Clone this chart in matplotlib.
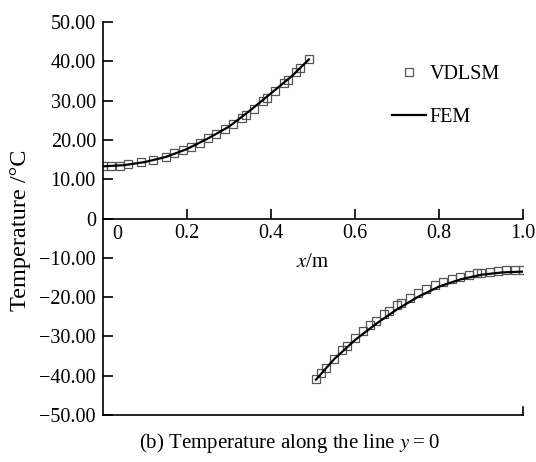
import matplotlib.pyplot as plt

plt.rcParams['font.family'] = ['Liberation Serif', 'DejaVu Serif']
plt.rcParams['mathtext.fontset'] = 'stix'

# FEM line, both halves
fem_x1 = [0.0, 0.05, 0.1, 0.15, 0.2, 0.25, 0.3, 0.35, 0.4, 0.45, 0.49]
fem_t1 = [13.3, 13.6, 14.4, 15.7, 17.7, 20.4, 23.4, 27.5, 31.9, 36.3, 40.5]
fem_x2 = [0.507, 0.55, 0.6, 0.65, 0.7, 0.75, 0.8, 0.85, 0.9, 0.95, 1.0]
fem_t2 = [-41.0, -35.8, -30.9, -26.8, -23.1, -19.9, -17.3, -15.5, -14.3, -13.7, -13.5]

# VDLSM points
vd_x1 = [0.0, 0.02, 0.04, 0.06, 0.09, 0.12, 0.15, 0.17, 0.19, 0.21, 0.23, 0.25, 0.27,
         0.29, 0.31, 0.33, 0.34, 0.36, 0.38, 0.39, 0.41, 0.43, 0.44, 0.46, 0.47, 0.49]
vd_t1 = [13.4, 13.4, 13.5, 13.8, 14.3, 14.9, 15.8, 16.6, 17.4, 18.3, 19.3, 20.5, 21.6,
         22.9, 24.2, 25.7, 26.4, 28.0, 29.9, 30.7, 32.5, 34.4, 35.3, 37.3, 38.3, 40.6]
vd_x2 = [0.507, 0.52, 0.53, 0.55, 0.57, 0.58, 0.6, 0.62, 0.635, 0.65, 0.67, 0.68, 0.7,
         0.71, 0.73, 0.75, 0.77, 0.79, 0.81, 0.83, 0.85, 0.87, 0.89, 0.9, 0.92, 0.94,
         0.96, 0.98, 1.0]
vd_t2 = [-40.8, -39.2, -38.0, -35.8, -33.5, -32.4, -30.5, -28.6, -27.2, -26.0, -24.3,
         -23.4, -22.1, -21.4, -20.1, -19.0, -17.8, -16.9, -16.1, -15.4, -14.8, -14.3,
         -13.9, -13.8, -13.5, -13.3, -13.2, -13.1, -13.1]

xticks = [0.2, 0.4, 0.6, 0.8, 1.0]
yticks = [-50, -40, -30, -20, -10, 0, 10, 20, 30, 40, 50]
ylabels = ['\u221250.00', '\u221240.00', '\u221230.00', '\u221220.00', '\u221210.00', '0',
           '10.00', '20.00', '30.00', '40.00', '50.00']

fig = plt.figure(figsize=(5.36, 4.62), dpi=100)
ax = fig.add_axes([0.192, 0.1017, 0.784, 0.8503])

ms = dict(marker='s', ls='none', ms=6, mfc='none', mec='#555555', mew=0.9)
ax.plot(vd_x1, vd_t1, label='VDLSM', **ms)
ax.plot(vd_x2, vd_t2, **ms)
ax.plot(fem_x1, fem_t1, color='black', lw=1.6, label='FEM')
ax.plot(fem_x2, fem_t2, color='black', lw=1.6)

ax.set_xlim(0, 1.0)
ax.set_ylim(-50, 50)
ax.spines['top'].set_visible(False)
ax.spines['right'].set_visible(False)
ax.spines['bottom'].set_position(('data', 0))
ax.axhline(-50, color='black', lw=1.2, clip_on=False)
ax.plot([1.0, 1.0], [-50, -48], color='black', lw=1.2, clip_on=False)
for s in ['left', 'bottom']:
    ax.spines[s].set_linewidth(1.2)

ax.set_xticks(xticks)
ax.set_xticklabels(['0.2', '0.4', '0.6', '0.8', '1.0'])
ax.set_yticks(yticks)
ax.set_yticklabels(ylabels)
ax.tick_params(axis='x', direction='in', length=7, width=1.2, pad=4, labelsize=14.5)
ax.tick_params(axis='y', direction='in', length=7, width=1.2, pad=5, labelsize=14.5)
ax.text(0.033, -1.6, '0', ha='center', va='top', fontsize=14.5)

ax.text(0.5, -11.3, '$x$/m', ha='center', va='center', fontsize=15)
ax.set_ylabel('Temperature /°C', fontsize=17.5)
ax.yaxis.set_label_coords(-0.17, 0.47)

ax.legend(loc='upper left', bbox_to_anchor=(0.688, 0.89), frameon=False,
          fontsize=14.5, handlelength=1.7, handletextpad=0.15, labelspacing=1.15,
          borderpad=0, borderaxespad=0)

fig.text(0.54, 0.041, '(b) Temperature along the line $y$\u2009=\u20090', ha='center',
         va='center', fontsize=15)

fig.savefig('out.png', dpi=100)
